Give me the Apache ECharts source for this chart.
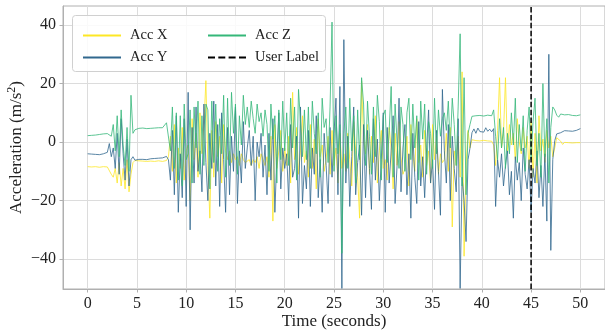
<!DOCTYPE html>
<html>
<head>
<meta charset="utf-8">
<script src="https://cdn.jsdelivr.net/npm/echarts@6/dist/echarts.min.js"></script>
<style>
  html, body { margin: 0; padding: 0; background: #fff; }
  #chart { width: 605px; height: 333px; }
</style>
</head>
<body>
<div id="chart"></div>
<script>
// samples every 0.2 s from 0 to 50 s
const SAMPLE_STEP = 0.2;

const accX = [
  -8.4, -8.5, -8.5, -8.6, -8.4, -8.5, -8.6, -8.5, -8.4, -8.6, -8.5, -8.3,
  -11, -12, -9, -14, -7, -15, -9, -16, -6, -17, -11, -7,
  -6.3, -6.5, -6.4, -6.6, -6.5, -6.4, -6.6, -6.5, -6.5, -6.4, -6.6, -6.5, -6.4, -6.5, -6.6, -6.5, -6.3,
  -5, 2, -10, 6, -14, -2, -9, 5, -13, -3,
  -1, -20, 8, -6, 3, -12, 10, -4, 6, 21,
  -8, -26, 4, -12, 7, -5, 2, -14, 6, -3,
  -6, -3, -7, -4, -6, -5, -8, -4, -6, -7,
  -7, -6, -8, -6, -7, -5, -9, -4, -6, -8,
  -5, -12, 2, -27, 6, -9, -3, 4, -10, -2,
  -8, 2, -14, 17, -6, 5, -11, -3, 9, -7,
  -3, -12, 6, -9, 1, -16, 8, -5, -1, -10,
  -6, 2, -11, 4, -8, -2, -14, 3, -9, -4,
  -10, 3, -6, -15, 7, -3, -12, -26, 21, 1,
  -4, 6, -11, 2, -7, 9, -14, -3, 4, -9,
  -6, -13, 5, -2, -16, 3, -8, 7, -5, -11,
  -9, 2, -15, 6, -4, -10, 8, -7, -1, -12,
  4, -8, -3, -14, 6, -6, 2, -11, -4, -7,
  -6, 3, -10, 5, -29, -3, -8, 2, -12, 24,
  -39, -8, 4, -2,
  0.8, 0.6, 0.5, 0.6, 0.4, 0.5, 0.6, 0.5, 0.4, 0.6, 0.3, -1,
  -8, 4, 22, -2, 3, 22, -3, 6, -1, 3, -6, 8, 0, -4, 5, -2, 2, -9, 7, -12, 3, -14, 9, -3, 1, -7, 4, -2, 2, -5,
  -2, 1.5, 1.2, 0.3, -0.8, -0.1, -0.3, -0.2, -0.2, -0.3, -0.2, -0.2, -0.3, -0.2
];

const accY = [
  -4.0, -4.2, -4.1, -4.3, -4.2, -4.4, -4.3, -4.2, -4.0, -3.9, -3.5, -0.5,
  -5, -2, -9, 3, -11, 8, -4, -13, 1, -15, -6, -5,
  -6.2, -6.0, -5.9, -6.1, -5.9, -5.8, -6.0, -5.9, -5.7, -5.8, -5.6, -5.7, -5.5, -5.6, -5.4, -5.3, -4.9,
  -6, -13, 4, -18, 9, -24, -4, -19, 8, -22,
  17, -30, 5, -14, 12, -10, -3, -17, 13, -7,
  -20, 3, -9, 14, -15, 6, -22, 10, -6, -24,
  5, -18, 2, -10, 12, -21, -3, -14, 7, -9,
  -2, 4, -8, 2, -20, 0, -5, 3, -12, -1,
  -18, 3, -13, 8, -24, -5, 10, -16, -2, -9,
  -4, -20, 6, -12, -9, 2, -26, 12, -21, -8,
  -16, 4, -22, -2, -11, 9, -19, -6, -24, 3,
  -8, -21, 5, -12, 3, 15, -18, 19, -50, 35,
  -14, 2, -22, -5, 12, -18, -7, -1, -25, 6,
  -19, 4, -9, -23, 8, -13, 1, -20, -6, 10,
  -24, 5, -14, -3, 9, -21, -8, 15, -17, -2,
  6, -18, -4, -26, 3, -12, -21, 7, -15, -5,
  -19, -2, 11, -14, -6, -23, 4, -10, -25, 18,
  -3, -14, 6, -20, 2, -9, -17, 8, -50, -12,
  -20, -34, -6, -2,
  3.2, 4.5, 3.0, 4.8, 3.6, 4.2, 3.4, 4.9, 3.7, 4.4, 3.5, 4.6,
  -22, -6, -12, -4, -15, -8, -3, -18, -10, -26, -5, -13, -7, -20, -2, -11, -16, -6, -24, -9, -14, -3, -19, -8, -22, -4, -27, 30, -37, -6,
  0.5, 2.8, 3.4, 3.2, 3.6, 3.9, 3.5, 3.8, 4.0, 3.7, 4.2, 4.0, 4.5, 4.6
];

const accZ = [
  2.2, 2.4, 2.3, 2.5, 2.4, 2.3, 2.6, 2.5, 2.8, 3.0, 2.9, 3.5,
  2, 6, -3, 9, -5, 11, -1, -8, 5, -10, 16, 3,
  4.2, 4.6, 4.7, 4.5, 4.8, 4.7, 4.6, 4.8, 4.7, 4.9, 4.8, 4.7, 4.9, 5.0, 4.9, 5.1, 6.6,
  7, -3, 12, -9, 10, -13, 9, -15, 13, -6,
  -4, 11, -14, 12, -2, 14, -11, 9, -8, 13,
  11, -16, 14, -7, 13, -10, 8, -4, 16, -12,
  15, -8, 17, 3, 13, -11, 9, -1, 16, 6,
  12, 5, 14, 8, 3, 13, 7, 10, 2, 11,
  6, -10, 13, 1, 9, -14, 11, -6, 14, -3,
  10, -8, 15, -2, 12, -13, 18, 7, -5, 11,
  -6, 12, -9, 14, 3, -4, 10, -12, 15, 5,
  8, -7, 12, 41, -10, 9, -4, 6, -38, 3,
  12, -9, 15, -3, 9, -14, 11, -6, 22, 13,
  -8, 14, 2, -11, 12, -5, 16, 7, -13, 9,
  11, -7, 4, 19, -12, 13, 0, -9, 12, 6,
  -10, 10, 15, -6, 13, -2, 9, -13, 14, 1,
  13, -11, 7, 3, -9, 15, -4, 11, 2, 8,
  10, 4, 14, -2, 15, 6, -8, 12, 37, -15,
  22, -18, 3, 6,
  8.8, 9.4, 9.0, 9.3, 9.1, 9.5, 8.9, 9.3, 9.2, 9.4, 9.0, 11,
  2, -6, 8, -2, 5, -9, 3, -4, 10, -1, 15, -7, 6, -3, 9, -10, 4, 12, -6, 7, 15, -8, 3, -12, 20, -5, 8, -14, 5, 12,
  11, 9.2, 8.5, 9.6, 9.1, 9.3, 9.0, 9.4, 9.2, 9.1, 9.3, 9.0, 9.2, 9.3
];

const userLabelTime = 45;

const xTicks = [0, 5, 10, 15, 20, 25, 30, 35, 40, 45, 50];
const yTicks = [-40, -20, 0, 20, 40];

const X_MIN = -2.5, X_MAX = 52.5;
const Y_MIN = -50.2, Y_MAX = 46.5;

const FONT = "Liberation Serif";
const TEXT = "#222";
const SPINE = "#b0b0b0";
const GRIDLINE = "#dcdcdc";

const LINE_ICON = "path://M0,0h38v2h-38z";
const DASH_ICON = "path://M0,0h7v2h-7z M10.3,0h7v2h-7z M20.6,0h7v2h-7z M31,0h7v2h-7z";

const times = accX.map((_, i) => +(i * SAMPLE_STEP).toFixed(1));
const pairs = (vals) => vals.map((v, i) => [times[i], v]);
const minus = (v) => String(v).replace("-", "\u2212");

const lineSeries = (name, vals, color) => ({
  name,
  type: "line",
  data: pairs(vals),
  showSymbol: false,
  symbol: "none",
  lineStyle: { width: 1, color, opacity: 0.8 },
  itemStyle: { color },
  emphasis: { disabled: true },
});

const legendBase = {
  orient: "vertical",
  top: 23,
  itemWidth: 38,
  itemHeight: 2,
  itemGap: 7,
  z: 20,
  selectedMode: false,
  textStyle: { fontFamily: FONT, fontSize: 14.5, color: TEXT, padding: [0, 0, 0, 4] },
};

const chart = echarts.init(document.getElementById("chart"));

chart.setOption({
  animation: false,
  grid: {
    left: 63,
    right: 0,
    top: 6,
    bottom: 44,
    outerBoundsMode: "none",
    show: true,
    borderColor: SPINE,
    borderWidth: 1,
  },

  legend: [
    {
      ...legendBase,
      left: 78,
      data: [
        { name: "Acc X", icon: LINE_ICON },
        { name: "Acc Y", icon: LINE_ICON },
      ],
    },
    {
      ...legendBase,
      left: 203,
      data: [
        { name: "Acc Z", icon: LINE_ICON },
        { name: "User Label", icon: DASH_ICON },
      ],
    },
  ],

  graphic: [
    {
      type: "rect",
      left: 72,
      top: 15,
      shape: { width: 253, height: 56, r: 3 },
      style: { fill: "rgba(255,255,255,0.85)", stroke: "#d0d0d0", lineWidth: 1 },
      z: 10,
    },
  ],

  xAxis: {
    type: "value",
    min: X_MIN,
    max: X_MAX,
    name: "Time (seconds)",
    nameLocation: "middle",
    nameMoveOverlap: false,
    nameGap: 24,
    nameTextStyle: { fontFamily: FONT, fontSize: 17, color: TEXT },
    axisLine: { show: true, onZero: false, lineStyle: { color: SPINE } },
    axisTick: { show: true, length: 3.5, customValues: xTicks, lineStyle: { color: SPINE } },
    axisLabel: {
      fontFamily: FONT,
      fontSize: 16,
      color: TEXT,
      margin: 7,
      customValues: xTicks,
      formatter: minus,
    },
    splitLine: { show: true, lineStyle: { color: GRIDLINE, width: 1 } },
  },

  yAxis: {
    type: "value",
    min: Y_MIN,
    max: Y_MAX,
    name: "Acceleration (m/s{sup|2})",
    nameLocation: "middle",
    nameMoveOverlap: false,
    nameGap: 36,
    nameTextStyle: {
      fontFamily: FONT,
      fontSize: 17,
      color: TEXT,
      rich: {
        sup: { fontFamily: FONT, fontSize: 12, color: TEXT, verticalAlign: "bottom", padding: [0, 0, 9, 0] },
      },
    },
    axisLine: { show: true, onZero: false, lineStyle: { color: SPINE } },
    axisTick: { show: true, length: 3.5, customValues: yTicks, lineStyle: { color: SPINE } },
    axisLabel: {
      fontFamily: FONT,
      fontSize: 16,
      color: TEXT,
      margin: 7,
      customValues: yTicks,
      formatter: minus,
    },
    splitLine: { show: true, lineStyle: { color: GRIDLINE, width: 1 } },
  },

  series: [
    lineSeries("Acc X", accX, "#fde725"),
    lineSeries("Acc Y", accY, "#31688e"),
    lineSeries("Acc Z", accZ, "#35b779"),
    {
      name: "User Label",
      type: "line",
      data: [[userLabelTime, Y_MIN], [userLabelTime, Y_MAX]],
      showSymbol: false,
      symbol: "none",
      lineStyle: { width: 1.5, color: "#000", type: [5.5, 2.4] },
      itemStyle: { color: "#000" },
      emphasis: { disabled: true },
      z: 5,
    },
  ],
});
</script>
</body>
</html>
